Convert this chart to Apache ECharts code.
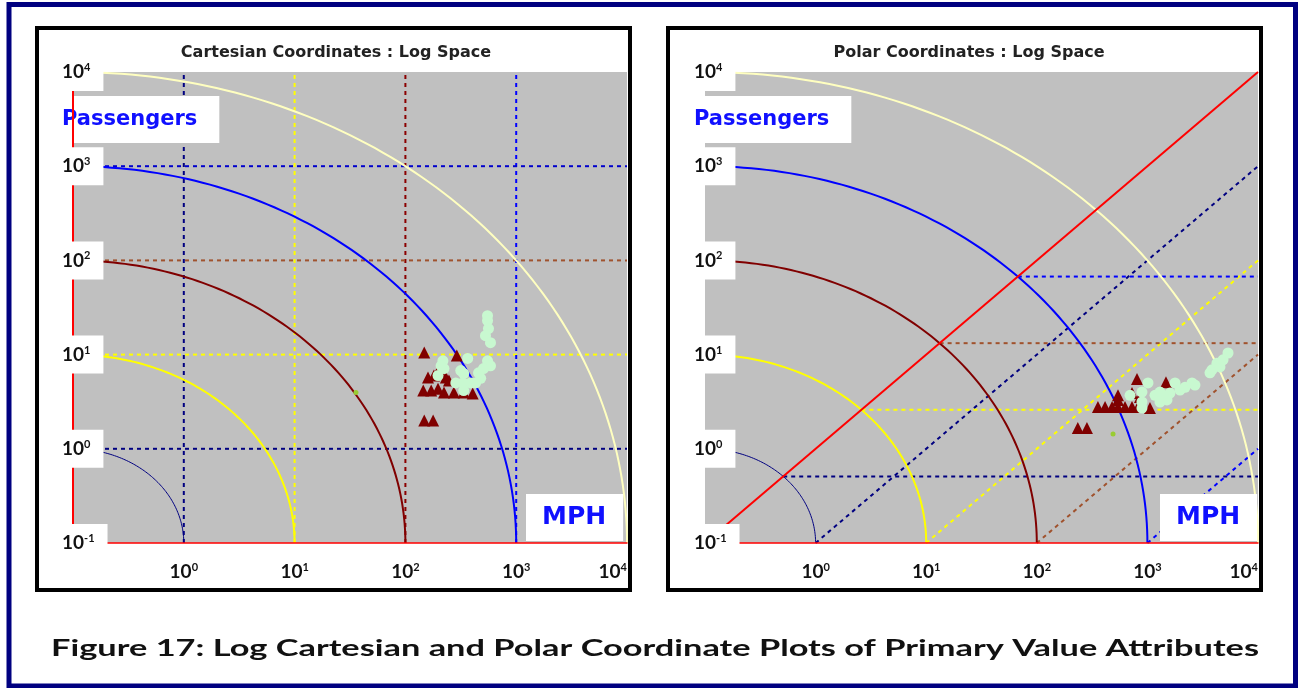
<!DOCTYPE html>
<html>
<head>
<meta charset="utf-8">
<title>Figure 17</title>
<script src="https://cdn.jsdelivr.net/npm/echarts@6/dist/echarts.min.js"></script>
<style>
html, body { margin: 0; padding: 0; background: #fff; }
#chart { width: 1299px; height: 688px; }
</style>
</head>
<body>
<div id="chart"></div>
<script>
// axis range of both axes in both panels: 10^-1 .. 10^4
const axisMin = 0.1;
const axisMax = 10000;

// guide rings, radius in decades counted from the 10^-1 corner
const ringRadii = [1, 2, 3, 4, 5];
// dashed grid lines (powers of ten)
const gridExponents = [0, 1, 2, 3];

// Cartesian panel: [MPH, Passengers]
const cartTriangles = [
    [148, 10.5], [291, 9.8], [160, 5.7], [181, 6.0], [209, 6.3], [232, 5.7], [247, 5.3],
    [200, 6.9], [145, 4.15], [171, 4.15], [197, 4.35], [223, 3.95], [274, 3.95],
    [336, 3.95], [405, 3.86], [148, 2.0], [178, 2.0]
];
const cartCircles = [
    [551, 25.9], [551, 23], [562, 18.9], [528, 15.9], [586, 13.4], [218, 8.6], [210, 7.6],
    [365, 9.1], [551, 8.6], [586, 7.6], [507, 7.1], [457, 6.4], [316, 6.76], [336, 6.3],
    [197, 6.0], [285, 5.0], [330, 5.0], [388, 5.0], [430, 5.0], [478, 5.6], [336, 4.15],
    [223, 7.1]
];
const cartDots = [[35.8, 3.95]];

// Polar panel
const polarTriangles = [
    [805, 5.5], [1472, 5.1], [542, 3.7], [357, 2.78], [414, 2.78], [479, 2.78], [542, 2.78],
    [627, 2.78], [726, 2.78], [822, 2.78], [1055, 2.71], [542, 3.3], [726, 3.9], [857, 3.55],
    [235, 1.66], [284, 1.66]
];
const polarCircles = [
    [697, 3.7], [893, 4.0], [1012, 5.0], [893, 3.14], [893, 2.71], [1172, 3.7], [1300, 4.0],
    [1443, 3.55], [1600, 3.9], [1778, 5.0], [1972, 4.2], [2188, 4.5], [2530, 5.0],
    [2692, 4.75], [1300, 3.14], [1503, 3.3], [3681, 6.4], [3837, 6.9], [4256, 8.1],
    [4529, 7.4], [4828, 8.8], [5358, 10.4]
];
const polarDots = [[489, 1.44]];

const captionText = 'Figure 17: Log Cartesian and Polar Coordinate Plots of Primary Value Attributes';

// styles
const ringColors = ['#000080', '#ffff00', '#800000', '#0000ff', '#ffffc0'];
const ringWidths = [1, 2, 2, 2, 2];
const vDashColors = ['#000080', '#ffff00', '#8b0000', '#0000ff'];
const hDashColors = ['#000080', '#ffff00', '#a0522d', '#0000cc'];
const polarDashColors = ['#000080', '#ffff00', '#a0522d', '#0000ff'];

// decades from the corner -> axis value
const dec = (o) => Math.pow(10, o - 1);
const span = Math.log10(axisMax / axisMin);

function cartGuides() {
    const g = [];
    gridExponents.forEach((e, i) => {
        const v = Math.pow(10, e);
        g.push({ from: [v, axisMin], to: [v, axisMax], stroke: vDashColors[i], width: 2, dash: true });
        g.push({ from: [axisMin, v], to: [axisMax, v], stroke: hDashColors[i], width: 2, dash: true });
    });
    ringRadii.forEach((r, i) => g.push({ arc: r, stroke: ringColors[i], width: ringWidths[i] }));
    return g;
}

function polarGuides() {
    const g = [];
    ringRadii.slice(0, gridExponents.length).forEach((r, i) => {
        const d = r / Math.SQRT2;
        g.push({ from: [dec(d), dec(d)], to: [axisMax, dec(d)], stroke: polarDashColors[i], width: 2, dash: true });
        g.push({ from: [dec(r), axisMin], to: [axisMax, dec(span - r)], stroke: polarDashColors[i], width: 2, dash: true });
    });
    ringRadii.forEach((r, i) => g.push({ arc: r, stroke: ringColors[i], width: ringWidths[i] }));
    g.push({ from: [axisMin, axisMin], to: [axisMax, axisMax], stroke: '#ff0000', width: 2 });
    return g;
}

function guideSeries(guides, idx) {
    return {
        type: 'custom',
        xAxisIndex: idx,
        yAxisIndex: idx,
        silent: true,
        z: 2,
        data: guides.map(() => [1, 1]),
        renderItem: function (params, api) {
            const g = guides[params.dataIndex];
            let points;
            if (g.arc) {
                points = [];
                for (let k = 0; k <= 90; k++) {
                    const a = k * Math.PI / 180;
                    points.push(api.coord([dec(g.arc * Math.cos(a)), dec(g.arc * Math.sin(a))]));
                }
            } else {
                points = [api.coord(g.from), api.coord(g.to)];
            }
            return {
                type: 'polyline',
                shape: { points: points },
                style: { stroke: g.stroke, lineWidth: g.width, lineDash: g.dash ? [4, 4] : null, fill: null }
            };
        }
    };
}

function scatterSeries(data, idx, symbol, color, size, z) {
    return {
        type: 'scatter',
        xAxisIndex: idx,
        yAxisIndex: idx,
        data: data,
        symbol: symbol,
        symbolSize: size,
        itemStyle: { color: color, opacity: 1 },
        z: z
    };
}

const tickRich = {
    b: { fontFamily: 'Lato', fontWeight: 'bold', fontSize: 19, color: '#111', lineHeight: 20 },
    s: { fontFamily: 'Lato', fontWeight: 'bold', fontSize: 11, color: '#111', lineHeight: 12, verticalAlign: 'top' }
};
const powerLabel = (v) => '{b|10}{s|' + Math.round(Math.log10(v)) + '}';

function xAxisFor(idx) {
    return {
        type: 'log', logBase: 10, gridIndex: idx, min: axisMin, max: axisMax, z: 10,
        axisLine: { show: true, lineStyle: { color: '#ff0000', width: 1.5 } },
        axisTick: { show: false },
        splitLine: { show: false },
        axisLabel: {
            margin: 19,
            showMinLabel: true, showMaxLabel: true,
            alignMaxLabel: 'right',
            formatter: (v) => v < 0.5 ? '' : powerLabel(v),
            rich: tickRich
        }
    };
}

function yAxisFor(idx, showLine) {
    return {
        type: 'log', logBase: 10, gridIndex: idx, min: axisMin, max: axisMax, z: 10,
        axisLine: { show: showLine, lineStyle: { color: '#ff0000', width: 2 } },
        axisTick: { show: false },
        splitLine: { show: false },
        axisLabel: {
            align: 'left',
            margin: 35,
            backgroundColor: '#fff',
            padding: [9, 13, 9, 24],
            showMinLabel: true, showMaxLabel: true,
            formatter: powerLabel,
            rich: tickRich
        }
    };
}

const panelTitle = { fontFamily: 'DejaVu Sans', fontWeight: 'bold', fontSize: 16, color: '#222', lineHeight: 18 };
const passStyle = { fontFamily: 'DejaVu Sans', fontWeight: 'bold', fontSize: 21, color: '#1010ff', lineHeight: 27 };
const mphStyle = { fontFamily: 'DejaVu Sans', fontWeight: 'bold', fontSize: 25, color: '#1010ff', lineHeight: 27 };

// the caption in the source is horizontally stretched; widen it to the same span
const captionFont = 'bold 22px Lato';
const measureCtx = document.createElement('canvas').getContext('2d');
measureCtx.font = captionFont;
const captionScale = 1208 / measureCtx.measureText(captionText).width;

const chart = echarts.init(document.getElementById('chart'));
chart.setOption({
    backgroundColor: '#fff',
    animation: false,
    title: [
        { text: 'Cartesian Coordinates : Log Space', left: 336, top: 44, textAlign: 'center', padding: 0, textStyle: panelTitle },
        { text: 'Polar Coordinates : Log Space', left: 969, top: 44, textAlign: 'center', padding: 0, textStyle: panelTitle },
        { text: 'Passengers', left: 58, top: 96, padding: [10, 22, 10, 4], backgroundColor: '#fff', textStyle: passStyle },
        { text: 'Passengers', left: 690, top: 96, padding: [10, 22, 10, 4], backgroundColor: '#fff', textStyle: passStyle },
        { text: 'MPH', left: 526, top: 494, padding: [10, 17, 10, 16], backgroundColor: '#fff', textStyle: mphStyle },
        { text: 'MPH', left: 1160, top: 494, padding: [10, 17, 10, 16], backgroundColor: '#fff', textStyle: mphStyle }
    ],
    grid: [
        { left: 73, top: 72, right: 672, bottom: 145, show: true, backgroundColor: '#c0c0c0', borderWidth: 0 },
        { left: 705, top: 72, right: 41, bottom: 145, show: true, backgroundColor: '#c0c0c0', borderWidth: 0 }
    ],
    xAxis: [xAxisFor(0), xAxisFor(1)],
    yAxis: [yAxisFor(0, true), yAxisFor(1, false)],
    graphic: [
        { type: 'rect', z: 100, shape: { x: 9, y: 4.5, width: 1286.5, height: 681.5 }, style: { fill: null, stroke: '#000080', lineWidth: 5 } },
        { type: 'rect', z: 100, shape: { x: 37, y: 28, width: 593, height: 562 }, style: { fill: null, stroke: '#000', lineWidth: 4 } },
        { type: 'rect', z: 100, shape: { x: 668, y: 28, width: 593, height: 562 }, style: { fill: null, stroke: '#000', lineWidth: 4 } },
        {
            type: 'text', z: 100, x: 655, y: 649, scaleX: captionScale,
            style: { text: captionText, font: captionFont, fill: '#111', align: 'center', verticalAlign: 'middle' }
        }
    ],
    series: [
        guideSeries(cartGuides(), 0),
        scatterSeries(cartTriangles, 0, 'triangle', '#800000', 12, 3),
        scatterSeries(cartCircles, 0, 'circle', '#c8f8d0', 11, 4),
        scatterSeries(cartDots, 0, 'circle', '#99cc33', 5, 5),
        guideSeries(polarGuides(), 1),
        scatterSeries(polarTriangles, 1, 'triangle', '#800000', 12, 3),
        scatterSeries(polarCircles, 1, 'circle', '#c8f8d0', 11, 4),
        scatterSeries(polarDots, 1, 'circle', '#99cc33', 5, 5)
    ]
});
</script>
</body>
</html>
